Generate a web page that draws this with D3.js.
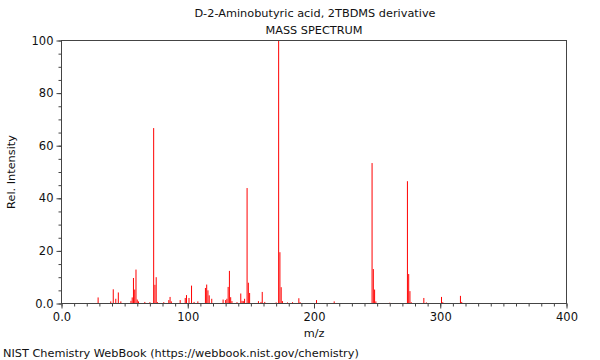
<!DOCTYPE html>
<html>
<head>
<meta charset="utf-8">
<script src="https://cdn.jsdelivr.net/npm/d3@7"></script>
<style>
  body { margin: 0; background: #fff; }
  svg { display: block; font-family: "DejaVu Sans", sans-serif; }
</style>
</head>
<body>
<div id="chart"></div>
<script>
// peak list (m/z, relative intensity)
const mzValues = [29, 39, 41, 43, 45, 47, 55, 56, 57, 58, 59, 60, 61, 66, 70,
  73, 74, 75, 76, 81, 85, 86, 87, 94, 98, 99, 101, 103, 105, 108,
  114, 115, 116, 117, 119, 128, 130, 131, 132, 133, 134, 135, 139,
  142, 143, 144, 145, 147, 148, 149, 156, 158, 159, 161, 170,
  172, 173, 174, 175, 179, 183, 188, 189, 202, 216,
  246, 247, 248, 249, 260, 274, 275, 276, 277, 287, 289, 301, 302, 316, 317];
const intensities = [2.3, 0.8, 5.4, 1.8, 4.2, 0.8, 1.0, 2.3, 9.7, 5.3, 12.9, 1.5, 0.8, 0.6, 0.5,
  66.7, 7.1, 10.0, 0.5, 0.5, 1.3, 2.5, 0.8, 1.3, 2.1, 3.2, 2.1, 6.8, 0.6, 0.8,
  5.9, 7.2, 5.0, 3.1, 1.8, 1.5, 1.3, 1.8, 6.3, 12.4, 2.4, 0.9, 0.5,
  3.8, 1.0, 0.9, 1.8, 43.9, 7.9, 4.0, 0.9, 0.6, 4.4, 0.6, 0.4,
  100, 19.5, 6.2, 0.9, 0.4, 0.5, 2.0, 0.5, 1.3, 0.8,
  53.4, 13.1, 5.3, 0.8, 0.3, 46.5, 11.2, 4.7, 0.5, 2.1, 0.4, 2.5, 0.5, 2.9, 0.6];

const xMajorTicks = [0, 100, 200, 300, 400];
const yMajorTicks = [0, 20, 40, 60, 80, 100];

const titleText = 'D-2-Aminobutyric acid, 2TBDMS derivative';
const subtitleText = 'MASS SPECTRUM';
const xLabel = 'm/z';
const yLabel = 'Rel. Intensity';
const footerText = 'NIST Chemistry WebBook (https://webbook.nist.gov/chemistry)';

const width = 600, height = 360;
const plotLeft = 61.5, plotRight = 566.5, plotTop = 40.5, plotBottom = 303.5;
const fontSize = '11.3px';

const svg = d3.select('#chart').append('svg')
    .attr('width', width)
    .attr('height', height);

const x = d3.scaleLinear().domain([0, 400]).range([plotLeft, plotRight]);
const y = d3.scaleLinear().domain([0, 100]).range([plotBottom, plotTop]);

const fmt = d => d === 0 ? '0.0' : String(d);

// peaks
const peaks = mzValues.map((m, i) => ({mz: m, v: intensities[i]}));
svg.append('g')
    .selectAll('line')
    .data(peaks)
    .join('line')
        .attr('x1', d => x(d.mz))
        .attr('x2', d => x(d.mz))
        .attr('y1', y(0))
        .attr('y2', d => y(d.v))
        .attr('stroke', '#ff0000')
        .attr('stroke-width', 1);

// frame
svg.append('rect')
    .attr('x', plotLeft)
    .attr('y', plotTop)
    .attr('width', plotRight - plotLeft)
    .attr('height', plotBottom - plotTop)
    .attr('fill', 'none')
    .attr('stroke', '#444')
    .attr('stroke-width', 1);

// x axis: minor every 10, labels every 100
const xAxisMinor = d3.axisBottom(x).tickValues(d3.range(0, 401, 10)).tickSize(3).tickFormat('');
const xAxisMajor = d3.axisBottom(x).tickValues(xMajorTicks).tickSize(5).tickPadding(4).tickFormat(fmt);
svg.append('g').attr('transform', `translate(0,${plotBottom})`).call(xAxisMinor);
svg.append('g').attr('transform', `translate(0,${plotBottom})`).call(xAxisMajor);

// y axis: minor every 5, labels every 20
const yAxisMinor = d3.axisLeft(y).tickValues(d3.range(0, 101, 5)).tickSize(3).tickFormat('');
const yAxisMajor = d3.axisLeft(y).tickValues(yMajorTicks).tickSize(5).tickPadding(3).tickFormat(fmt);
svg.append('g').attr('transform', `translate(${plotLeft},0)`).call(yAxisMinor);
svg.append('g').attr('transform', `translate(${plotLeft},0)`).call(yAxisMajor);

svg.selectAll('.domain').remove();
svg.selectAll('.tick line').attr('stroke', '#444');
svg.selectAll('.tick text').attr('fill', '#111').style('font-size', '11.5px').style('font-family', '"DejaVu Sans", sans-serif');

// titles and labels
svg.append('text')
    .attr('x', 315).attr('y', 17)
    .attr('text-anchor', 'middle')
    .style('font-size', fontSize)
    .attr('fill', '#111')
    .text(titleText);
svg.append('text')
    .attr('x', 314).attr('y', 34)
    .attr('text-anchor', 'middle')
    .style('font-size', fontSize)
    .attr('fill', '#111')
    .text(subtitleText);
svg.append('text')
    .attr('x', 314).attr('y', 337)
    .attr('text-anchor', 'middle')
    .style('font-size', fontSize)
    .attr('fill', '#111')
    .text(xLabel);
svg.append('text')
    .attr('transform', `translate(15,${(plotTop + plotBottom) / 2}) rotate(-90)`)
    .attr('text-anchor', 'middle')
    .style('font-size', fontSize)
    .attr('fill', '#111')
    .text(yLabel);
svg.append('text')
    .attr('x', 3).attr('y', 357)
    .style('font-size', fontSize)
    .attr('fill', '#111')
    .text(footerText);
</script>
</body>
</html>
